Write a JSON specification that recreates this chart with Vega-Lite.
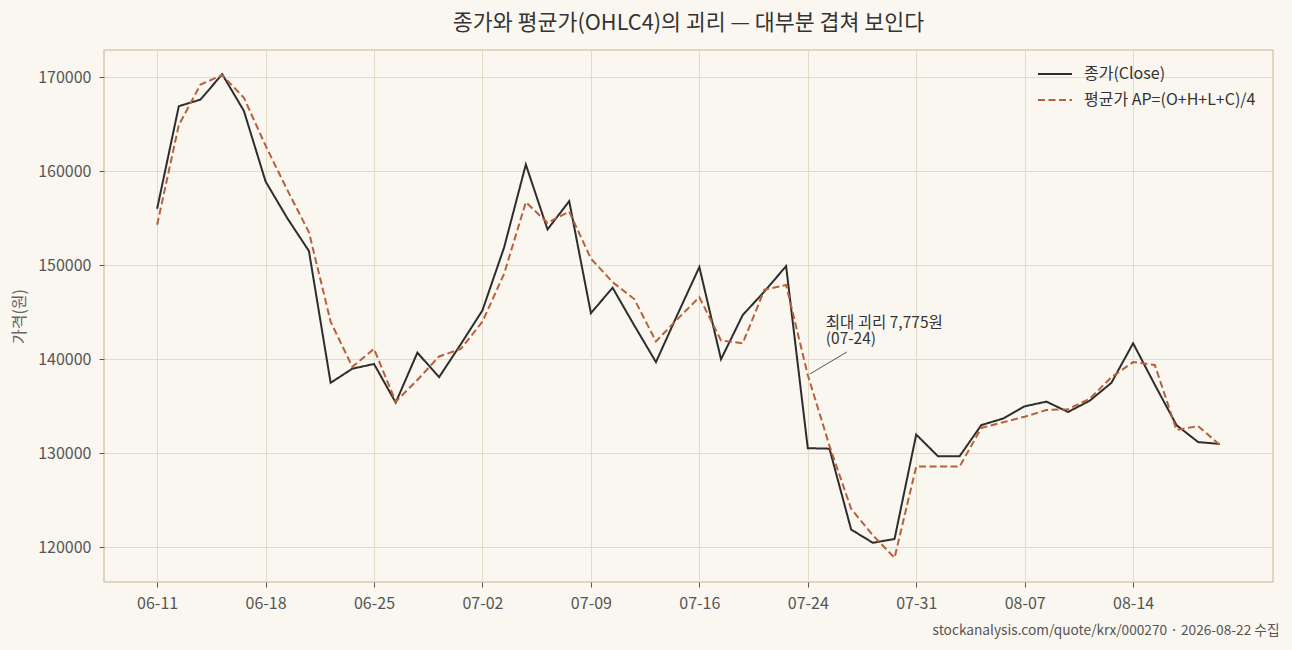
{
  "$schema": "https://vega.github.io/schema/vega-lite/v6.json",
  "width": 1169,
  "height": 532,
  "autosize": "none",
  "padding": {"left": 104, "top": 50, "right": 19, "bottom": 68},
  "background": "#faf7f0",
  "title": {
    "text": "종가와 평균가(OHLC4)의 괴리 — 대부분 겹쳐 보인다",
    "font": "Noto Sans CJK KR",
    "fontSize": 21.7,
    "fontWeight": "normal",
    "color": "#333333",
    "anchor": "middle",
    "frame": "group",
    "offset": 15
  },
  "data": {
    "values": [
      {"i": 0, "d": "06-11", "close": 156000, "ap": 154300},
      {"i": 1, "d": "06-12", "close": 166900, "ap": 164900},
      {"i": 2, "d": "06-15", "close": 167600, "ap": 169200},
      {"i": 3, "d": "06-16", "close": 170300, "ap": 170200},
      {"i": 4, "d": "06-17", "close": 166400, "ap": 167800},
      {"i": 5, "d": "06-18", "close": 158900, "ap": 162700},
      {"i": 6, "d": "06-19", "close": 155000, "ap": 158000},
      {"i": 7, "d": "06-22", "close": 151500, "ap": 153500},
      {"i": 8, "d": "06-23", "close": 137500, "ap": 144000},
      {"i": 9, "d": "06-24", "close": 139000, "ap": 139200},
      {"i": 10, "d": "06-25", "close": 139500, "ap": 141100},
      {"i": 11, "d": "06-26", "close": 135400, "ap": 135500},
      {"i": 12, "d": "06-29", "close": 140700, "ap": 137800},
      {"i": 13, "d": "06-30", "close": 138100, "ap": 140300},
      {"i": 14, "d": "07-01", "close": 141600, "ap": 141100},
      {"i": 15, "d": "07-02", "close": 145200, "ap": 144000},
      {"i": 16, "d": "07-03", "close": 151900, "ap": 149100},
      {"i": 17, "d": "07-06", "close": 160700, "ap": 156700},
      {"i": 18, "d": "07-07", "close": 153800, "ap": 154500},
      {"i": 19, "d": "07-08", "close": 156800, "ap": 155700},
      {"i": 20, "d": "07-09", "close": 144900, "ap": 150700},
      {"i": 21, "d": "07-10", "close": 147600, "ap": 148200},
      {"i": 22, "d": "07-13", "close": 143600, "ap": 146400},
      {"i": 23, "d": "07-14", "close": 139700, "ap": 141900},
      {"i": 24, "d": "07-15", "close": 144800, "ap": 144300},
      {"i": 25, "d": "07-16", "close": 149800, "ap": 146600},
      {"i": 26, "d": "07-20", "close": 140000, "ap": 142000},
      {"i": 27, "d": "07-21", "close": 144700, "ap": 141700},
      {"i": 28, "d": "07-22", "close": 147200, "ap": 147400},
      {"i": 29, "d": "07-23", "close": 149900, "ap": 147900},
      {"i": 30, "d": "07-24", "close": 130550, "ap": 138325},
      {"i": 31, "d": "07-27", "close": 130500, "ap": 130800},
      {"i": 32, "d": "07-28", "close": 121900, "ap": 124100},
      {"i": 33, "d": "07-29", "close": 120500, "ap": 121300},
      {"i": 34, "d": "07-30", "close": 120900, "ap": 118900},
      {"i": 35, "d": "07-31", "close": 132000, "ap": 128600},
      {"i": 36, "d": "08-03", "close": 129700, "ap": 128600},
      {"i": 37, "d": "08-04", "close": 129700, "ap": 128600},
      {"i": 38, "d": "08-05", "close": 133000, "ap": 132700},
      {"i": 39, "d": "08-06", "close": 133700, "ap": 133300},
      {"i": 40, "d": "08-07", "close": 135000, "ap": 133900},
      {"i": 41, "d": "08-10", "close": 135500, "ap": 134600},
      {"i": 42, "d": "08-11", "close": 134400, "ap": 134700},
      {"i": 43, "d": "08-12", "close": 135600, "ap": 135800},
      {"i": 44, "d": "08-13", "close": 137500, "ap": 138100},
      {"i": 45, "d": "08-14", "close": 141700, "ap": 139700},
      {"i": 46, "d": "08-18", "close": 137300, "ap": 139400},
      {"i": 47, "d": "08-19", "close": 133000, "ap": 132500},
      {"i": 48, "d": "08-20", "close": 131200, "ap": 132900},
      {"i": 49, "d": "08-21", "close": 131000, "ap": 130900}
    ]
  },
  "encoding": {
    "x": {
      "field": "i",
      "type": "quantitative",
      "scale": {"domain": [-2.45, 51.45], "nice": false, "zero": false},
      "axis": {
        "values": [0, 5, 10, 15, 20, 25, 30, 35, 40, 45],
        "labelExpr": "['06-11','06-18','06-25','07-02','07-09','07-16','07-24','07-31','08-07','08-14'][round(datum.value / 5)]",
        "labelAngle": 0,
        "labelPadding": 8,
        "labelFlush": false,
        "title": "stockanalysis.com/quote/krx/000270 · 2026-08-22 수집",
        "titleX": 1175,
        "titleY": 52,
        "titleAlign": "right",
        "titleAnchor": null,
        "titleBaseline": "alphabetic",
        "titleFontSize": 13.7,
        "titleFontWeight": "normal",
        "titleColor": "#555555"
      }
    },
    "y": {
      "type": "quantitative",
      "scale": {"domain": [116330, 172870], "nice": false, "zero": false},
      "axis": {
        "values": [120000, 130000, 140000, 150000, 160000, 170000],
        "format": "d",
        "labelPadding": 8,
        "title": "가격(원)",
        "titleFontSize": 16,
        "titleFontWeight": "normal",
        "titleColor": "#666666",
        "titlePadding": 10
      }
    }
  },
  "layer": [
    {
      "transform": [{"fold": ["close", "ap"], "as": ["s", "p"]}],
      "mark": {"type": "line", "strokeWidth": 2},
      "encoding": {
        "y": {"field": "p"},
        "color": {
          "field": "s",
          "type": "nominal",
          "scale": {"domain": ["close", "ap"], "range": ["#2d2d2d", "#b8603a"]},
          "legend": {
            "title": null,
            "orient": "none",
            "legendX": 933,
            "legendY": 6,
            "padding": 0,
            "symbolType": "stroke",
            "symbolSize": 1156,
            "symbolStrokeWidth": 2,
            "labelFontSize": 16,
            "labelColor": "#333333",
            "labelOffset": 11,
            "labelLimit": 400,
            "rowPadding": -9,
            "labelExpr": "datum.label == 'close' ? '종가(Close)' : '평균가 AP=(O+H+L+C)/4'"
          }
        },
        "strokeDash": {
          "field": "s",
          "type": "nominal",
          "scale": {"domain": ["close", "ap"], "range": [[1, 0], [7, 3.5]]},
          "legend": null
        }
      }
    },
    {
      "transform": [{"filter": "datum.d == '07-24'"}],
      "mark": {
        "type": "rule",
        "color": "#555555",
        "strokeWidth": 1,
        "xOffset": 2,
        "yOffset": -1,
        "x2Offset": 39,
        "y2Offset": -23
      },
      "encoding": {
        "y": {"field": "ap"},
        "x2": {"field": "i"},
        "y2": {"field": "ap"}
      }
    },
    {
      "transform": [{"filter": "datum.d == '07-24'"}],
      "mark": {
        "type": "text",
        "text": ["최대 괴리 7,775원", "(07-24)"],
        "align": "left",
        "baseline": "alphabetic",
        "dx": 18,
        "dy": -47,
        "lineHeight": 16,
        "fontSize": 15.5,
        "color": "#333333"
      },
      "encoding": {
        "y": {"field": "ap"}
      }
    }
  ],
  "config": {
    "font": "Noto Sans CJK KR",
    "view": {"stroke": "#d8cbb0", "strokeWidth": 1.5, "fill": "#faf7f0"},
    "axis": {
      "labelFont": "Noto Sans CJK KR",
      "labelFontSize": 16,
      "labelColor": "#555555",
      "titleFont": "Noto Sans CJK KR",
      "tickColor": "#555555",
      "tickSize": 5,
      "tickWidth": 1,
      "domain": false,
      "grid": true,
      "gridColor": "#e3dbc6",
      "gridWidth": 1
    },
    "legend": {"labelFont": "Noto Sans CJK KR"},
    "text": {"font": "Noto Sans CJK KR"}
  }
}
